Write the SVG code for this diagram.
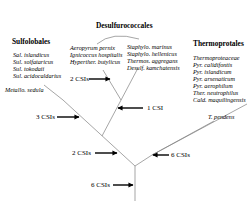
<svg xmlns="http://www.w3.org/2000/svg" width="250" height="206" viewBox="0 0 250 206">
<defs>
<marker id="ah" viewBox="0 0 10 10" refX="9" refY="5" markerWidth="3.6" markerHeight="3.6" orient="auto" markerUnits="strokeWidth">
<path d="M0,0 L10,5 L0,10 z" fill="#000"/>
</marker>
<style>
.t{font-family:"Liberation Serif","Times New Roman",serif;font-weight:bold;font-size:7.4px;fill:#000}
.s{font-family:"Liberation Serif","Times New Roman",serif;font-style:italic;font-size:6.2px;fill:#000}
.l{font-family:"Liberation Serif","Times New Roman",serif;font-size:7px;fill:#000}
.br{stroke:#808080;stroke-width:0.7;fill:none}
.ar{stroke:#000;stroke-width:1.4;fill:none;marker-end:url(#ah)}
</style>
</defs>
<rect width="250" height="206" fill="#fff"/>
<g id="connectors">
<line class="br" x1="135" y1="201" x2="135" y2="166"/>
<line class="br" x1="135" y1="166" x2="63" y2="100"/>
<line class="br" x1="63" y1="100" x2="44" y2="85"/>
<line class="br" x1="102" y1="136" x2="138" y2="68"/>
<line class="br" x1="121" y1="100" x2="103" y2="70"/>
<line class="br" x1="135" y1="166" x2="152" y2="155"/>
<line class="br" x1="152" y1="155" x2="247" y2="104"/>
<line class="br" x1="152" y1="155" x2="214" y2="121"/>
<path class="br" d="M97,44 Q112,31 139,39"/>
</g>
<g id="sulfolobales">
<text class="t" x="12" y="44">Sulfolobales</text>
<text class="s" x="13" y="57">Sal. islandicus</text>
<text class="s" x="13" y="64">Sul. solfataricus</text>
<text class="s" x="13" y="71">Sul. tokodaii</text>
<text class="s" x="13" y="78">Sul. acidocaldarius</text>
</g>
<g id="metallo">
<text class="s" x="5" y="92">Metallo. sedula</text>
</g>
<g id="desulfurococcales">
<text class="t" x="96" y="28">Desulfurococcales</text>
<text class="s" x="70" y="50">Aeropyrum pernix</text>
<text class="s" x="70" y="57">Ignicoccus hospitalis</text>
<text class="s" x="70" y="64">Hyperther. butylicus</text>
<text class="s" x="127" y="49">Staphylo. marinus</text>
<text class="s" x="127" y="56">Staphylo. hellenicus</text>
<text class="s" x="127" y="63">Thermos. aggregans</text>
<text class="s" x="127" y="70">Desulf. kamchatensis</text>
</g>
<g id="thermoproteales">
<text class="t" x="193" y="46">Thermoprotales</text>
<text class="s" x="193" y="60">Thermoproteaceae</text>
<text class="s" x="193" y="67">Pyr. calidifontis</text>
<text class="s" x="193" y="74">Pyr. islandicum</text>
<text class="s" x="193" y="81">Pyr. arsenaticum</text>
<text class="s" x="193" y="88">Pyr. aerophilum</text>
<text class="s" x="193" y="95">Ther. neutrophilus</text>
<text class="s" x="193" y="102">Cald. maquilingensis</text>
</g>
<g id="tpendens">
<text class="s" x="208" y="119">T. pendens</text>
</g>
<g id="csi-2a">
<text class="l" x="70" y="81">2 CSIs</text>
<line class="ar" x1="89" y1="79" x2="110" y2="79"/>
</g>
<g id="csi-1">
<text class="l" x="147" y="110">1 CSI</text>
<line class="ar" x1="143" y1="108" x2="118" y2="108"/>
</g>
<g id="csi-3">
<text class="l" x="36" y="119">3 CSIs</text>
<line class="ar" x1="57" y1="117" x2="79" y2="117"/>
</g>
<g id="csi-2b">
<text class="l" x="72" y="155">2 CSIs</text>
<line class="ar" x1="95" y1="153" x2="117" y2="153"/>
</g>
<g id="csi-6a">
<text class="l" x="171" y="157">6 CSIs</text>
<line class="ar" x1="169" y1="155" x2="153" y2="155"/>
</g>
<g id="csi-6b">
<text class="l" x="91" y="187">6 CSIs</text>
<line class="ar" x1="113" y1="185" x2="133" y2="185"/>
</g>
</svg>
